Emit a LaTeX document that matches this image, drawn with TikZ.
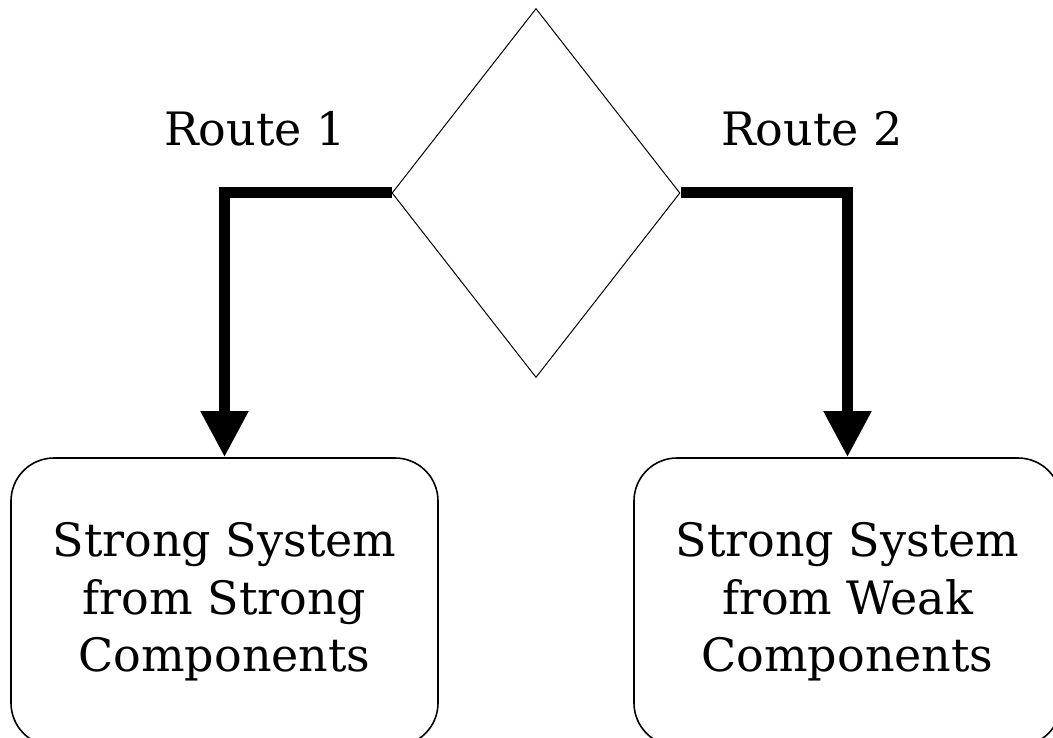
\documentclass[tikz,border=0pt]{standalone}
\usepackage{fontspec}
\setmainfont{DejaVu Serif}
\usetikzlibrary{shapes,arrows.meta,positioning}

\begin{document}
\begin{tikzpicture}[x=1pt,y=-1pt,
    box/.style={draw,line width=1.6pt,rounded corners=43pt,minimum width=427pt,minimum height=288pt,align=center,font=\fontsize{46}{57.5}\selectfont},
    route/.style={line width=11pt,-{Triangle[width=45pt,length=46pt]}},
    lab/.style={anchor=base,font=\fontsize{46}{57.5}\selectfont}]
    \useasboundingbox (0,0) rectangle (1053,738);
    %
    \node[draw,diamond,line width=1pt,inner sep=0pt,minimum width=288pt,minimum height=369pt] (choice) at (536,193) {};
    %
    \node[box] (strong) at (224.5,602) {Strong System\\from Strong\\Components};
    \node[box] (weak) at (847.5,602) {Strong System\\from Weak\\Components};
    %
    \draw[route] (choice.west) -| (strong.north);
    \draw[route] (choice.east) -| (weak.north);
    %
    \node[lab] (r1) at (255,146) {Route 1};
    \node[lab] (r2) at (812,146) {Route 2};
\end{tikzpicture}
\end{document}
